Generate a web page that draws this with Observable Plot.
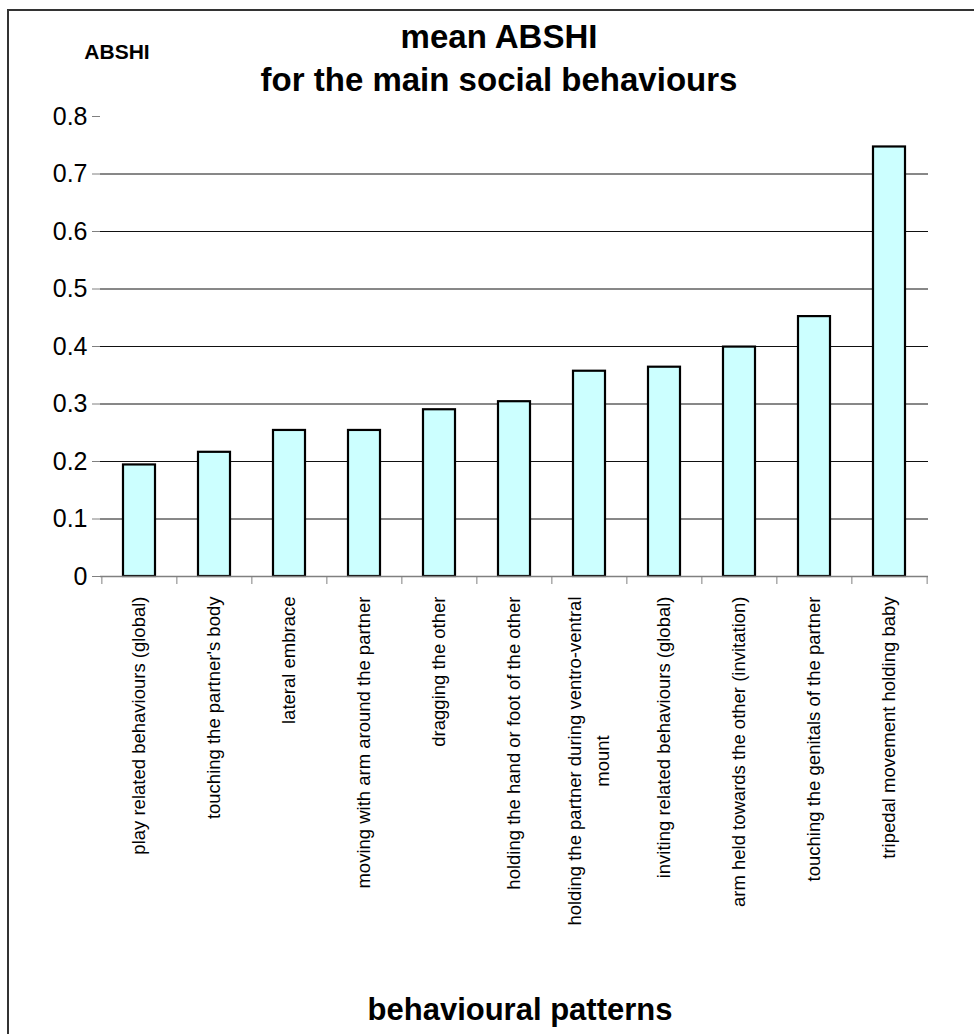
<!DOCTYPE html>
<html>
<head>
<meta charset="utf-8">
<script src="https://cdn.jsdelivr.net/npm/d3@7"></script>
<script src="https://cdn.jsdelivr.net/npm/@observablehq/plot@0.6"></script>
<style>
  html, body { margin: 0; padding: 0; background: #fff; }
  #wrap { position: relative; width: 974px; height: 1034px; overflow: hidden; font-family: 'Liberation Sans', Arial, sans-serif; }
  #border { position: absolute; left: 7px; top: 9px; width: 1000px; height: 1100px; border-top: 2px solid #333; border-left: 2px solid #333; }
  .t { position: absolute; font-weight: bold; color: #000; white-space: nowrap; transform: translate(-50%, -50%); }
  #chart { position: absolute; left: 0; top: 0; }
</style>
</head>
<body>
<div id="wrap">
  <div id="chart"></div>
  <div id="border"></div>
  <div class="t" style="left:499px; top:37px; font-size:33px;">mean ABSHI</div>
  <div class="t" style="left:499px; top:80px; font-size:33px;">for the main social behaviours</div>
  <div class="t" style="left:117px; top:52px; font-size:21px;">ABSHI</div>
  <div class="t" style="left:520px; top:1010px; font-size:31px;">behavioural patterns</div>
</div>
<script>
// ---- data ----
const categories = [
  "play related behaviours (global)",
  "touching the partner's body",
  "lateral embrace",
  "moving with arm around the partner",
  "dragging the other",
  "holding the hand or foot of the other",
  "holding the partner during ventro-ventral mount",
  "inviting related behaviours (global)",
  "arm held towards the other (invitation)",
  "touching the genitals of the partner",
  "tripedal movement holding baby"
];
const labelLines = [
  ["play related behaviours (global)"],
  ["touching the partner's body"],
  ["lateral embrace"],
  ["moving with arm around the partner"],
  ["dragging the other"],
  ["holding the hand or foot of the other"],
  ["holding the partner during ventro-ventral", "mount"],
  ["inviting related behaviours (global)"],
  ["arm held towards the other (invitation)"],
  ["touching the genitals of the partner"],
  ["tripedal movement holding baby"]
];
const values = [0.194, 0.216, 0.254, 0.254, 0.290, 0.304, 0.357, 0.364, 0.399, 0.452, 0.747];
const yTicks = [0, 0.1, 0.2, 0.3, 0.4, 0.5, 0.6, 0.7, 0.8];

// ---- layout ----
const W = 974, H = 1034, ml = 100, mr = 46, mt = 116, mb = 458;
const fontFamily = "'Liberation Sans', Arial, sans-serif";
const labelSize = 18.5, lineGap = 28, labelOffset = 20;
const step = (W - ml - mr) / categories.length;

const data = categories.map((c, i) => ({name: c, value: values[i], lines: labelLines[i]}));
const single = data.filter(d => d.lines.length === 1);
const multi = data.filter(d => d.lines.length > 1);

const ctx = document.createElement("canvas").getContext("2d");
ctx.font = `${labelSize}px ${fontFamily}`;
const mw = s => ctx.measureText(s).width;
const shift2 = multi.length ? (mw(multi[0].lines[0]) - mw(multi[0].lines[1])) / 2 : 0;

const labelOpts = {x: "name", frameAnchor: "bottom", rotate: -90, textAnchor: "end", lineAnchor: "middle", fontSize: labelSize, fill: "#000"};

const chart = Plot.plot({
  width: W, height: H,
  marginLeft: ml, marginRight: mr, marginTop: mt, marginBottom: mb,
  style: {fontFamily, background: "transparent", color: "#000", overflow: "visible"},
  x: {type: "band", domain: categories, paddingInner: 0.58, paddingOuter: 0.29},
  y: {domain: [0, 0.8]},
  marks: [
    Plot.ruleY(yTicks.filter(v => v > 0 && v < 0.8), {stroke: "#111", strokeWidth: 1}),
    Plot.barY(data, {x: "name", y: "value", fill: "#CCFFFF", stroke: "#000", strokeWidth: 2.2}),
    Plot.ruleY([0], {stroke: "#808080", strokeWidth: 1.5}),
    Plot.axisY(yTicks, {tickSize: 8, tickPadding: 5, tickFormat: v => v === 0 ? "0" : v.toFixed(1), stroke: "#808080", fill: "#000", fontSize: 25, label: null, line: true}),
    Plot.axisX(categories, {tickSize: 8, tickFormat: () => "", stroke: "#808080", dx: -step / 2, label: null}),
    Plot.axisX([categories[categories.length - 1]], {tickSize: 8, tickFormat: () => "", stroke: "#808080", dx: step / 2, label: null}),
    Plot.text(single, {...labelOpts, text: d => d.lines[0], dy: labelOffset}),
    Plot.text(multi, {...labelOpts, text: d => d.lines[0], dy: labelOffset, dx: -lineGap / 2}),
    Plot.text(multi, {...labelOpts, text: d => d.lines[1], dy: labelOffset + shift2, dx: lineGap / 2})
  ]
});
document.getElementById("chart").appendChild(chart);
</script>
</body>
</html>
